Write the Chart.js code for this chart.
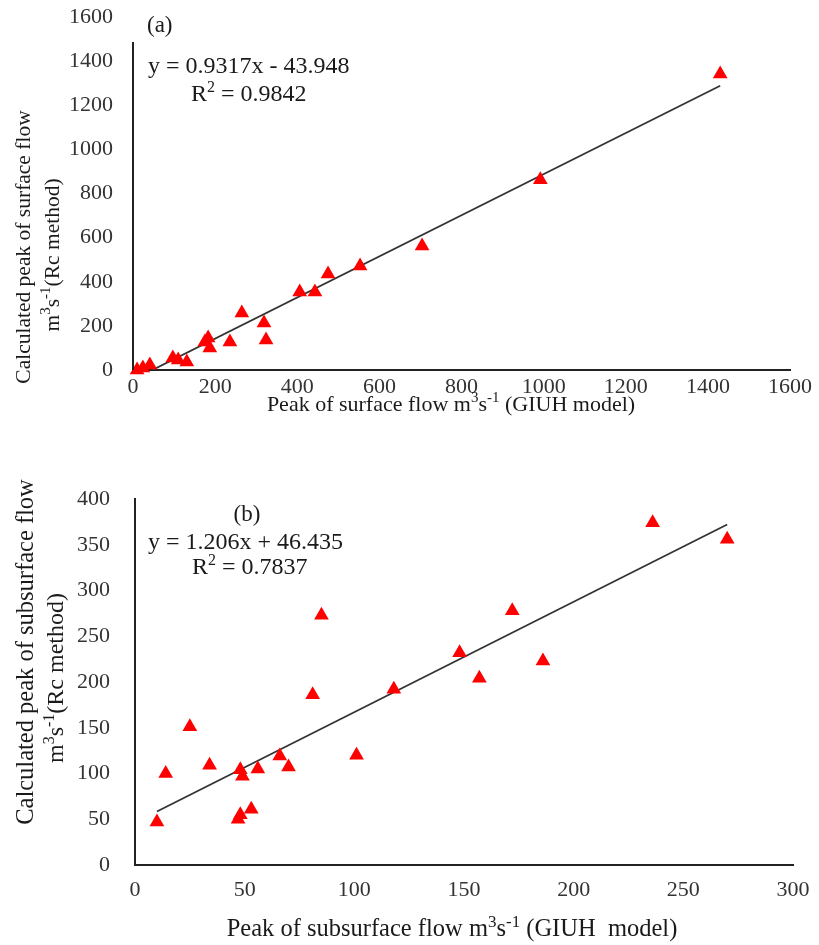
<!DOCTYPE html>
<html>
<head>
<meta charset="utf-8">
<script src="https://cdn.jsdelivr.net/npm/chart.js@4.4.1/dist/chart.umd.min.js"></script>
<style>
  body { margin: 0; background: #fff; }
  #wrap { position: relative; width: 819px; height: 945px; }
  canvas { position: absolute; left: 0; }
</style>
</head>
<body>
<div id="wrap">
  <canvas id="chartA" width="819" height="430" style="top:0px"></canvas>
  <canvas id="chartB" width="819" height="515" style="top:430px"></canvas>
</div>
<script>
// (a) surface flow peaks
const surfaceGiuh = [10, 24, 41, 97, 110, 131, 175, 183, 187, 236, 265, 319, 324, 406, 443, 475, 553, 704, 992, 1430];
const surfaceRc   = [0, 9, 23, 54, 45, 36, 127, 145, 100, 127, 258, 213, 136, 354, 354, 435, 471, 562, 862, 1342];
const surfaceTicks = [0, 200, 400, 600, 800, 1000, 1200, 1400, 1600];
const surfaceFit = { slope: 0.9317, intercept: -43.948 };

// (b) subsurface flow peaks
const subGiuh = [10, 14, 25, 34, 47, 48, 48, 49, 53, 56, 66, 70, 81, 85, 101, 118, 148, 157, 172, 186, 236, 270];
const subRc   = [47, 100, 151, 109, 50, 55, 104, 97, 61, 105, 119, 107, 186, 273, 120, 192, 232, 204, 278, 223, 374, 356];
const subXTicks = [0, 50, 100, 150, 200, 250, 300];
const subYTicks = [0, 50, 100, 150, 200, 250, 300, 350, 400];
const subFit = { slope: 1.206, intercept: 46.435 };

const FONT = '"Liberation Serif", "Times New Roman", serif';

// "m^{3}s^{-1}" -> pieces, superscripts drawn smaller and raised
function parseRich(s) {
  const parts = [];
  const re = /\^\{([^}]*)\}/g;
  let last = 0, m;
  while ((m = re.exec(s))) {
    if (m.index > last) parts.push({ t: s.slice(last, m.index) });
    parts.push({ t: m[1], sup: true });
    last = re.lastIndex;
  }
  if (last < s.length) parts.push({ t: s.slice(last) });
  return parts;
}

function drawRich(ctx, it) {
  const parts = parseRich(it.text);
  const big = `${it.size}px ${FONT}`;
  const small = `${Math.round(it.size * 0.68)}px ${FONT}`;
  let w = 0;
  parts.forEach(p => { ctx.font = p.sup ? small : big; p.w = ctx.measureText(p.t).width; w += p.w; });
  let x = it.align === 'center' ? -w / 2 : 0;
  parts.forEach(p => {
    ctx.font = p.sup ? small : big;
    ctx.fillText(p.t, x, p.sup ? -it.size * 0.3 : 0);
    x += p.w;
  });
}

const textPlugin = {
  id: 'panelText',
  afterDraw(chart, args, opts) {
    const ctx = chart.ctx;
    if (opts.yLineTop != null) {
      const a = chart.chartArea;
      ctx.save();
      ctx.strokeStyle = '#222';
      ctx.lineWidth = 2;
      ctx.beginPath();
      ctx.moveTo(a.left, opts.yLineTop);
      ctx.lineTo(a.left, a.bottom);
      ctx.stroke();
      ctx.restore();
    }
    (opts.items || []).forEach(it => {
      ctx.save();
      ctx.fillStyle = '#1a1a1a';
      ctx.textAlign = 'left';
      ctx.textBaseline = 'middle';
      ctx.translate(it.x, it.y);
      if (it.rotate) ctx.rotate(-Math.PI / 2);
      drawRich(ctx, it);
      ctx.restore();
    });
  }
};

function fitLine(xs, fit) {
  const lo = Math.min(...xs), hi = Math.max(...xs);
  return [lo, hi].map(x => ({ x: x, y: fit.slope * x + fit.intercept }));
}

function noPad(s) {
  s.paddingTop = 0; s.paddingBottom = 0; s.paddingLeft = 0; s.paddingRight = 0;
}

function makeChart(id, xs, ys, fit, xTicks, yTicks, g, texts) {
  const pts = xs.map((x, i) => ({ x: x, y: ys[i] }));
  return new Chart(document.getElementById(id), {
    type: 'scatter',
    data: {
      datasets: [{
        data: pts,
        pointStyle: 'triangle',
        pointRadius: 8.5,
        pointBackgroundColor: '#ff0000',
        pointBorderWidth: 0,
        clip: false
      }, {
        data: fitLine(xs, fit),
        showLine: true,
        pointRadius: 0,
        borderColor: '#333',
        borderWidth: 1.8
      }]
    },
    options: {
      responsive: false,
      animation: false,
      layout: { padding: { top: g.top, right: g.right, left: 0, bottom: 0 } },
      plugins: {
        legend: { display: false },
        tooltip: { enabled: false },
        panelText: { items: texts, yLineTop: g.yLineTop }
      },
      scales: {
        x: {
          type: 'linear',
          min: xTicks[0], max: xTicks[xTicks.length - 1],
          afterBuildTicks: s => { s.ticks = xTicks.map(v => ({ value: v })); },
          afterFit: s => { s.height = g.xHeight; noPad(s); },
          grid: { display: false, drawTicks: false },
          border: { display: true, color: '#222', width: 2 },
          ticks: {
            color: '#333', padding: g.xPad, maxRotation: 0, autoSkip: false,
            font: { family: FONT, size: g.tickSize },
            callback: v => String(v)
          }
        },
        y: {
          type: 'linear',
          min: yTicks[0], max: yTicks[yTicks.length - 1],
          afterBuildTicks: s => { s.ticks = yTicks.map(v => ({ value: v })); },
          afterFit: s => { s.width = g.yWidth; noPad(s); },
          grid: { display: false, drawTicks: false },
          border: { display: g.yLineTop == null, color: '#222', width: 2 },
          ticks: {
            color: '#333', padding: g.yPad, autoSkip: false,
            font: { family: FONT, size: g.tickSize },
            callback: v => String(v)
          }
        }
      }
    },
    plugins: [textPlugin]
  });
}

makeChart('chartA', surfaceGiuh, surfaceRc, surfaceFit, surfaceTicks, surfaceTicks,
  { top: 17, right: 29, xHeight: 60, yWidth: 133, xPad: 4, yPad: 20, tickSize: 22, yLineTop: 42 },
  [
    { text: '(a)', x: 147, y: 26, size: 23 },
    { text: 'y = 0.9317x - 43.948', x: 148, y: 67, size: 24 },
    { text: 'R^{2} = 0.9842', x: 191, y: 95, size: 24 },
    { text: 'Calculated peak of surface flow', x: 24, y: 247, size: 21.5, align: 'center', rotate: true },
    { text: 'm^{3}s^{-1}(Rc method)', x: 53, y: 255, size: 21.5, align: 'center', rotate: true },
    { text: 'Peak of surface flow m^{3}s^{-1} (GIUH model)', x: 451, y: 405, size: 22, align: 'center' }
  ]);

makeChart('chartB', subGiuh, subRc, subFit, subXTicks, subYTicks,
  { top: 69, right: 26, xHeight: 80, yWidth: 135, xPad: 12, yPad: 25, tickSize: 22 },
  [
    { text: '(b)', x: 247, y: 85, size: 23, align: 'center' },
    { text: 'y = 1.206x + 46.435', x: 148, y: 113, size: 24 },
    { text: 'R^{2} = 0.7837', x: 192, y: 138, size: 24 },
    { text: 'Calculated peak of subsurface flow', x: 27, y: 222, size: 24.5, align: 'center', rotate: true },
    { text: 'm^{3}s^{-1}(Rc method)', x: 57, y: 248, size: 24, align: 'center', rotate: true },
    { text: 'Peak of subsurface flow m^{3}s^{-1} (GIUH  model)', x: 452, y: 500, size: 24.5, align: 'center' }
  ]);
</script>
</body>
</html>
